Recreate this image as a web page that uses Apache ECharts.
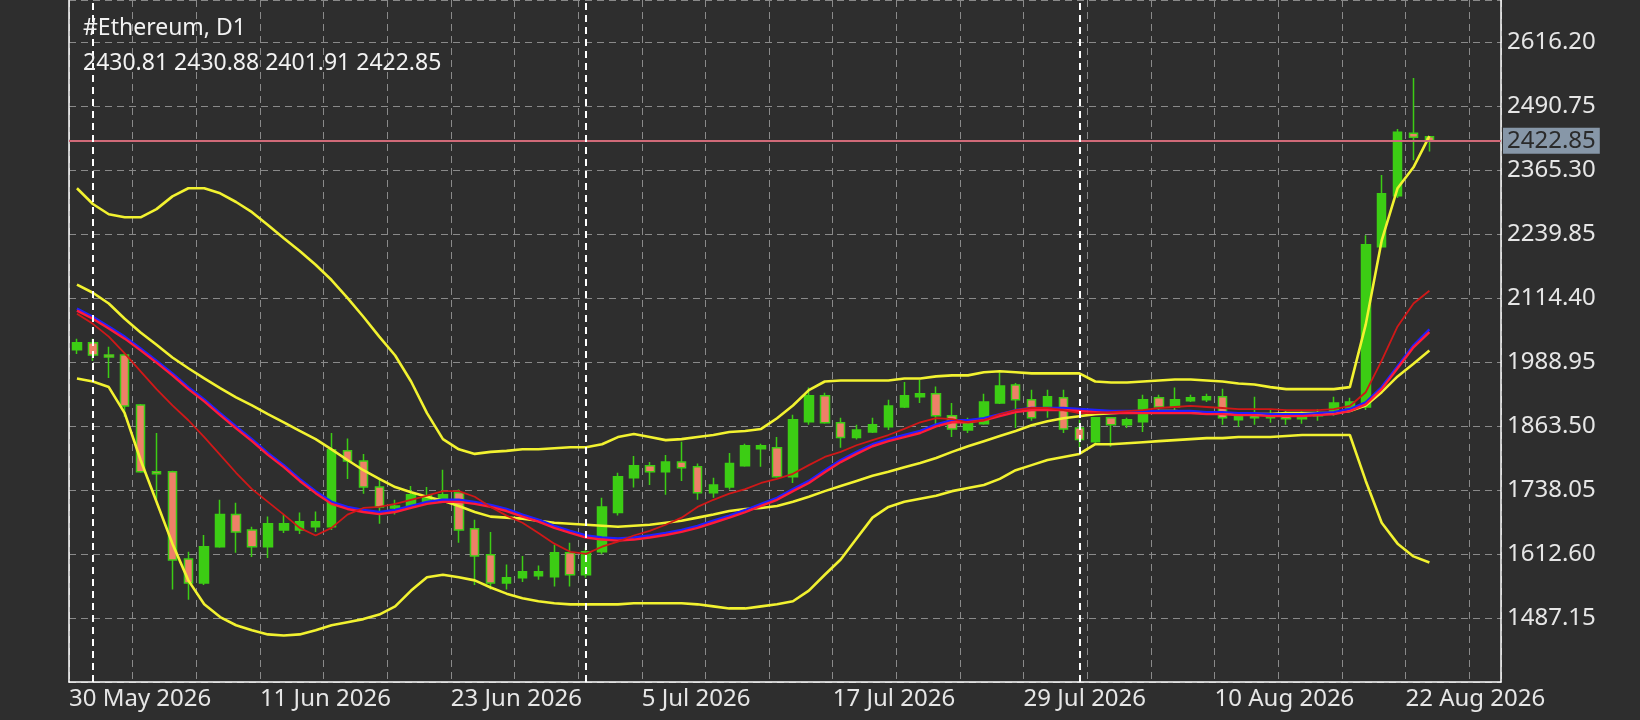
<!DOCTYPE html>
<html><head><meta charset="utf-8">
<script src="https://cdn.jsdelivr.net/npm/echarts@6/dist/echarts.min.js"></script>
<style>html,body{margin:0;padding:0;background:#2e2e2e;}#c{width:1640px;height:720px;}</style>
</head><body><div id="c"></div>
<script>
const title = "#Ethereum, D1";
const ohlcText = "2430.81 2430.88 2401.91 2422.85";
const lastPrice = 2422.85;
const tickLabels = ["30 May 2026","11 Jun 2026","23 Jun 2026","5 Jul 2026","17 Jul 2026","29 Jul 2026","10 Aug 2026","22 Aug 2026"];
const tickIdx = [0,12,24,36,48,60,72,84];
const separatorIdx = [1,32,63];
// [open, close, low, high]
const candles = [
[2013,2027,2005,2035],[2027,2003,1991,2035],[2003,1999,1958,2019],[2003,1903,1882,2007],[1905,1774,1772,1907],
[1774,1770,1719,1850],[1774,1601,1543,1776],[1603,1556,1523,1617],[1556,1627,1552,1650],[1627,1690,1625,1719],
[1690,1656,1615,1713],[1660,1627,1607,1666],[1627,1672,1605,1686],[1660,1672,1654,1690],[1660,1676,1652,1694],
[1666,1676,1656,1696],[1666,1817,1660,1850],[1815,1795,1760,1839],[1795,1744,1731,1809],[1744,1705,1672,1762],
[1703,1707,1690,1719],[1705,1729,1703,1746],[1715,1727,1713,1744],[1715,1729,1713,1778],[1733,1660,1635,1739],
[1662,1609,1552,1680],[1611,1556,1543,1656],[1556,1566,1543,1592],[1566,1578,1558,1609],[1570,1578,1562,1590],
[1568,1615,1549,1631],[1615,1572,1549,1635],[1572,1617,1566,1625],[1617,1705,1612,1723],[1694,1764,1688,1772],
[1762,1786,1743,1805],[1786,1774,1748,1793],[1774,1793,1729,1807],[1793,1782,1756,1833],[1784,1733,1719,1790],
[1733,1748,1723,1762],[1744,1790,1739,1811],[1786,1825,1784,1829],[1819,1825,1784,1829],[1821,1764,1762,1842],
[1764,1876,1752,1886],[1872,1923,1866,1939],[1923,1870,1868,1929],[1870,1841,1821,1880],[1841,1856,1837,1866],
[1852,1866,1850,1880],[1862,1903,1856,1915],[1901,1923,1899,1950],[1921,1927,1909,1954],[1927,1884,1866,1941],
[1884,1858,1842,1909],[1856,1872,1850,1880],[1868,1911,1866,1927],[1909,1942,1907,1968],[1944,1915,1860,1948],
[1915,1880,1874,1935],[1901,1921,1880,1935],[1919,1858,1850,1935],[1860,1837,1821,1876],[1833,1880,1827,1880],
[1880,1866,1823,1880],[1866,1876,1860,1880],[1872,1915,1852,1925],[1919,1901,1895,1925],[1901,1915,1895,1939],
[1913,1919,1911,1925],[1915,1921,1911,1927],[1921,1880,1866,1937],[1876,1884,1862,1890],[1884,1880,1866,1921],
[1880,1886,1870,1895],[1886,1878,1866,1893],[1878,1884,1868,1892],[1884,1888,1874,1897],[1890,1909,1884,1921],
[1899,1911,1893,1919],[1901,2219,1895,2238],[2215,2319,2215,2356],[2315,2440,2311,2446],[2438,2430,2385,2546],
[2430.81,2422.85,2401.91,2430.88]];
const upperBand = [2330,2299,2279,2273,2273,2289,2314,2330,2330,2320,2303,2283,2258,2232,2207,2180,2150,2115,2078,2039,2002,1951,1889,1838,1818,1809,1813,1815,1818,1818,1820,1822,1822,1828,1842,1848,1842,1836,1838,1842,1846,1852,1854,1858,1879,1904,1934,1951,1953,1953,1953,1953,1957,1957,1961,1963,1963,1969,1971,1969,1967,1967,1967,1967,1951,1949,1949,1951,1953,1955,1955,1953,1951,1947,1945,1940,1936,1936,1936,1936,1940,2063,2227,2330,2371,2432];
const middleBand = [2141,2125,2104,2074,2047,2023,1998,1977,1957,1938,1920,1904,1887,1871,1854,1838,1818,1797,1777,1760,1744,1734,1725,1717,1707,1695,1686,1684,1682,1678,1674,1672,1670,1668,1666,1668,1670,1674,1678,1684,1690,1697,1701,1703,1707,1715,1725,1736,1746,1756,1766,1774,1783,1791,1801,1813,1824,1834,1844,1854,1865,1873,1879,1883,1887,1889,1891,1891,1893,1893,1891,1889,1889,1887,1887,1887,1889,1889,1889,1889,1893,1904,1930,1961,1986,2012];
const lowerBand = [1957,1951,1940,1889,1797,1715,1633,1561,1514,1489,1473,1463,1455,1453,1455,1463,1473,1479,1485,1494,1510,1541,1567,1572,1567,1561,1547,1535,1526,1520,1516,1514,1514,1514,1514,1516,1516,1516,1516,1514,1510,1506,1506,1510,1514,1520,1541,1572,1602,1643,1684,1705,1715,1721,1727,1736,1742,1748,1760,1777,1787,1797,1803,1809,1828,1828,1830,1832,1834,1836,1838,1840,1840,1842,1842,1842,1844,1846,1846,1846,1846,1756,1674,1633,1608,1596];
const fastMA = [2084,2064,2039,2006,1971,1936,1904,1875,1842,1807,1772,1740,1715,1690,1664,1649,1664,1690,1703,1705,1711,1719,1727,1736,1736,1725,1705,1688,1674,1654,1633,1617,1613,1627,1637,1649,1658,1670,1684,1705,1719,1731,1740,1752,1760,1770,1787,1803,1813,1826,1836,1846,1858,1871,1879,1877,1871,1875,1887,1895,1899,1899,1895,1889,1889,1891,1893,1895,1899,1901,1903,1901,1899,1897,1897,1897,1895,1895,1895,1897,1903,1930,1992,2059,2104,2129];
const slowBlue = [2094,2078,2059,2039,2016,1992,1967,1940,1916,1889,1863,1838,1811,1787,1760,1736,1715,1705,1699,1695,1699,1707,1715,1719,1719,1715,1709,1701,1690,1680,1668,1658,1649,1645,1643,1645,1649,1654,1660,1668,1678,1688,1699,1711,1723,1740,1756,1777,1797,1813,1828,1838,1846,1854,1867,1875,1875,1879,1887,1895,1899,1899,1899,1897,1895,1893,1893,1893,1893,1893,1893,1891,1891,1889,1889,1887,1887,1887,1889,1891,1897,1910,1940,1981,2022,2053];
const slowRed = [2090,2074,2055,2035,2012,1988,1963,1936,1912,1885,1859,1834,1807,1783,1756,1732,1711,1701,1695,1691,1695,1703,1711,1715,1715,1711,1705,1697,1686,1676,1664,1654,1645,1641,1639,1641,1645,1650,1656,1664,1674,1684,1695,1707,1719,1736,1752,1773,1793,1809,1824,1834,1842,1850,1863,1871,1871,1875,1883,1891,1895,1895,1895,1893,1891,1889,1889,1889,1889,1889,1889,1887,1887,1885,1885,1883,1883,1883,1885,1887,1893,1906,1936,1977,2018,2048];
const totalSlots = 90;

const cats = [];
for (let i = 0; i < totalSlots; i++) cats.push(String(i));
const labelMap = {};
tickIdx.forEach((k, j) => labelMap[k] = tickLabels[j]);

const line = (data, color, w) => ({type:'line', data, symbol:'none', silent:true, animation:false,
  lineStyle:{color, width:w}, z:3});

const chart = echarts.init(document.getElementById('c'));
chart.setOption({
  backgroundColor:'#2e2e2e',
  animation:false,
  textStyle:{fontFamily:'Noto Sans'},
  title:[
    {text:title, left:78, top:12, textStyle:{color:'#f2f2f2', fontSize:23, fontWeight:'normal', fontFamily:'Noto Sans'}},
    {text:ohlcText, left:78, top:47, textStyle:{color:'#f2f2f2', fontSize:23, fontWeight:'normal', fontFamily:'Noto Sans'}}
  ],
  grid:{left:69, right:139, top:0, bottom:38},
  xAxis:{type:'category', data:cats, boundaryGap:true,
    axisLine:{lineStyle:{color:'#ffffff', width:1.5}},
    axisTick:{show:false},
    axisLabel:{color:'#e6e6e6', fontSize:24, align:'left', margin:5, padding:[0,0,0,-8],
      interval:(i)=> labelMap[i] !== undefined,
      formatter:(v,i)=> labelMap[i] || ''},
    splitLine:{show:true, interval:3, lineStyle:{color:'#8a8a8a', type:[7,5], width:1}}
  },
  yAxis:[{type:'value', position:'right', min:1361.70, max:2699.1, interval:125.45, scale:true,
    axisLine:{show:true, lineStyle:{color:'#ffffff', width:1.5}},
    axisTick:{show:false},
    axisLabel:{color:'#e6e6e6', fontSize:24, margin:6,
      formatter:(v)=> (v < 1400 || v > 2650) ? '' : v.toFixed(2)},
    splitLine:{show:true, lineStyle:{color:'#8a8a8a', type:[7,5], width:1}}
  },{type:'value', position:'left', min:1361.70, max:2699.1, interval:125.45,
    axisLine:{show:true, lineStyle:{color:'#ffffff', width:1.5}},
    axisTick:{show:false}, axisLabel:{show:false}, splitLine:{show:false}}],
  series:[
    line(upperBand,'#f2f230',2.6),
    line(middleBand,'#f2f230',2.6),
    line(lowerBand,'#f2f230',2.6),
    line(slowBlue,'#2020ff',2.4),
    line(slowRed,'#ff1a3a',2.4),
    line(fastMA,'#d01818',1.8),
    {type:'candlestick', data:candles, barWidth:9, z:2,
      itemStyle:{color:'#3ccd14', color0:'#ee8068', borderColor:'#3ccd14', borderColor0:'#3ccd14', borderWidth:1.5},
      markLine:{symbol:'none', silent:true, animation:false,
        data:[
          {yAxis:lastPrice, lineStyle:{color:'#d06a78', type:'solid', width:2},
            label:{show:true, position:'end', formatter:lastPrice.toFixed(2), color:'#2a2a2a', fontSize:24,
              backgroundColor:'#8797a8', padding:[2,4,0,4], distance:2}},
          ...separatorIdx.map(k => ({xAxis:k, lineStyle:{color:'#ffffff', type:[7,5], width:2}, label:{show:false}}))
        ]}
    }
  ]
});
</script></body></html>
